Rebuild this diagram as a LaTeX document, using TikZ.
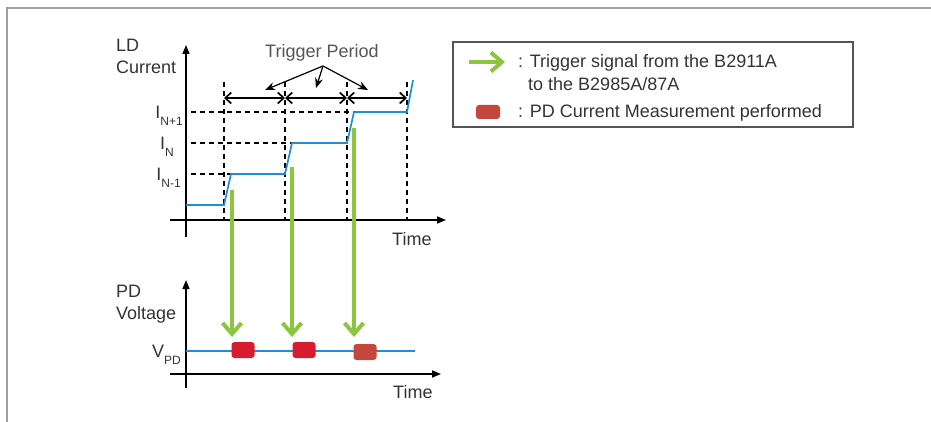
\documentclass[tikz,border=0pt]{standalone}
\usepackage{fontspec}
\setmainfont{Liberation Sans}
\usetikzlibrary{arrows.meta, positioning}
\definecolor{txtgray}{HTML}{333333}
\definecolor{softgray}{HTML}{555555}
\definecolor{framegray}{HTML}{A0A0A0}
\definecolor{ldblue}{HTML}{1E8FD5}
\definecolor{trggreen}{HTML}{8CC63F}
\definecolor{measred}{HTML}{D81B2E}
\definecolor{measbrown}{HTML}{C5463A}
\tikzstyle{lbl}=[font=\fontsize{18}{20}\selectfont,text=txtgray,inner sep=0pt]
\tikzstyle{axis}=[-{Triangle[length=9pt,width=7pt]},line width=1.6pt,black]
\tikzstyle{guide}=[dash pattern=on 5pt off 4pt,line width=1.1pt,black]
\tikzstyle{period}=[{Straight Barb[length=6pt,width=11pt]}-{Straight Barb[length=6pt,width=11pt]},line width=1.7pt,black]
\tikzstyle{fan}=[-{Stealth[length=10pt,width=8pt]},line width=1.2pt,black]
\tikzstyle{trig}=[-{Straight Barb[length=11pt,width=19pt]},line width=4pt,trggreen]
\tikzstyle{signal}=[line width=1.7pt,ldblue]
\tikzstyle{meas}=[rectangle,rounded corners=3pt,minimum width=23pt,minimum height=16pt,
  inner sep=0pt,fill=measred]
\newcommand{\lvlname}[2]{#1\raisebox{-7pt}{\fontsize{12}{12}\selectfont #2}}

\begin{document}
\begin{tikzpicture}[x=1pt,y=-1pt]
  \useasboundingbox (0,0) rectangle (931,422);
  \draw[framegray,line width=1.5pt] (7,422) -- (7,8) -- (931,8);

  \coordinate (ldbot) at (186,237);
  \coordinate (ldtop) at (186,45);
  \coordinate (ldleft) at (170,220);
  \coordinate (ldright) at (446,220);
  \draw[axis] (ldbot) -- (ldtop);
  \draw[axis] (ldleft) -- (ldright);
  \node[lbl,anchor=base west] (ldname) at (116,52) {LD};
  \node[lbl,anchor=base west] (ldname2) at (116,74) {Current};
  \node[lbl,anchor=base west] (ldtime) at (392,245) {Time};

  \foreach \x/\n in {224/1,285/2,347/3,407/4} {
    \draw[guide] (\x,82) -- (\x,220);
    \coordinate (t\n) at (\x,98);
  }
  \draw[period] (t1) -- (t2);
  \draw[period] (t2) -- (t3);
  \draw[period] (t3) -- (t4);

  \draw[guide] (191,112) -- (354,112);
  \draw[guide] (191,143) -- (292,143);
  \draw[guide] (191,174) -- (231,174);
  \node[lbl,anchor=base east] (inp) at (183,119) {\lvlname{I}{N+1}};
  \node[lbl,anchor=base east] (in) at (174,150) {\lvlname{I}{N}};
  \node[lbl,anchor=base east] (inm) at (181,181) {\lvlname{I}{N-1}};

  \draw[signal] (186,205) -- (224,205) -- (231,174) -- (285,174) -- (292,143)
    -- (347,143) -- (354,112) -- (407,112) -- (413,80);

  \node[lbl,anchor=base west,text=softgray] (tper) at (265,58) {Trigger Period};
  \coordinate (fan0) at (323,66);
  \coordinate (fan1) at (265,90);
  \coordinate (fan2) at (316,88);
  \coordinate (fan3) at (368,90);
  \draw[fan] (fan0) -- (fan1);
  \draw[fan] (fan0) -- (fan2);
  \draw[fan] (fan0) -- (fan3);

  \coordinate (pdbot) at (186,388);
  \coordinate (pdtop) at (186,280);
  \coordinate (pdleft) at (170,374);
  \coordinate (pdright) at (441,374);
  \draw[axis] (pdbot) -- (pdtop);
  \draw[axis] (pdleft) -- (pdright);
  \node[lbl,anchor=base west] (pdname) at (116,297) {PD};
  \node[lbl,anchor=base west] (pdname2) at (116,319) {Voltage};
  \node[lbl,anchor=base west] (pdtime) at (393,398) {Time};
  \node[lbl,anchor=base east] (vpd) at (181,357) {\lvlname{V}{PD}};
  \draw[signal] (186,351) -- (415,351);

  \node[meas] (m1) at (243,350) {};
  \node[meas] (m2) at (304,350) {};
  \node[meas,fill=measbrown] (m3) at (365,352) {};

  \coordinate (g1s) at (232,190);
  \coordinate (g1e) at (232,337);
  \coordinate (g2s) at (292,167);
  \coordinate (g2e) at (292,337);
  \coordinate (g3s) at (354,128);
  \coordinate (g3e) at (354,337);
  \draw[trig] (g1s) -- (g1e);
  \draw[trig] (g2s) -- (g2e);
  \draw[trig] (g3s) -- (g3e);

  \node[draw=softgray,line width=1.3pt,minimum width=400pt,minimum height=85pt] (legend) at (653,84.5) {};
  \coordinate (lg1) at (469,62);
  \coordinate (lg2) at (505,62);
  \draw[trig] (lg1) -- (lg2);
  \node[lbl,anchor=base west] (lgtxt1) at (518,68) {: Trigger signal from the B2911A};
  \node[lbl,anchor=base west] (lgtxt2) at (528,91) {to the B2985A/87A};
  \node[meas,fill=measbrown,minimum width=24pt,minimum height=14pt] (lgbox) at (488,112) {};
  \node[lbl,anchor=base west] (lgtxt3) at (518,118) {: PD Current Measurement performed};
\end{tikzpicture}
\end{document}
